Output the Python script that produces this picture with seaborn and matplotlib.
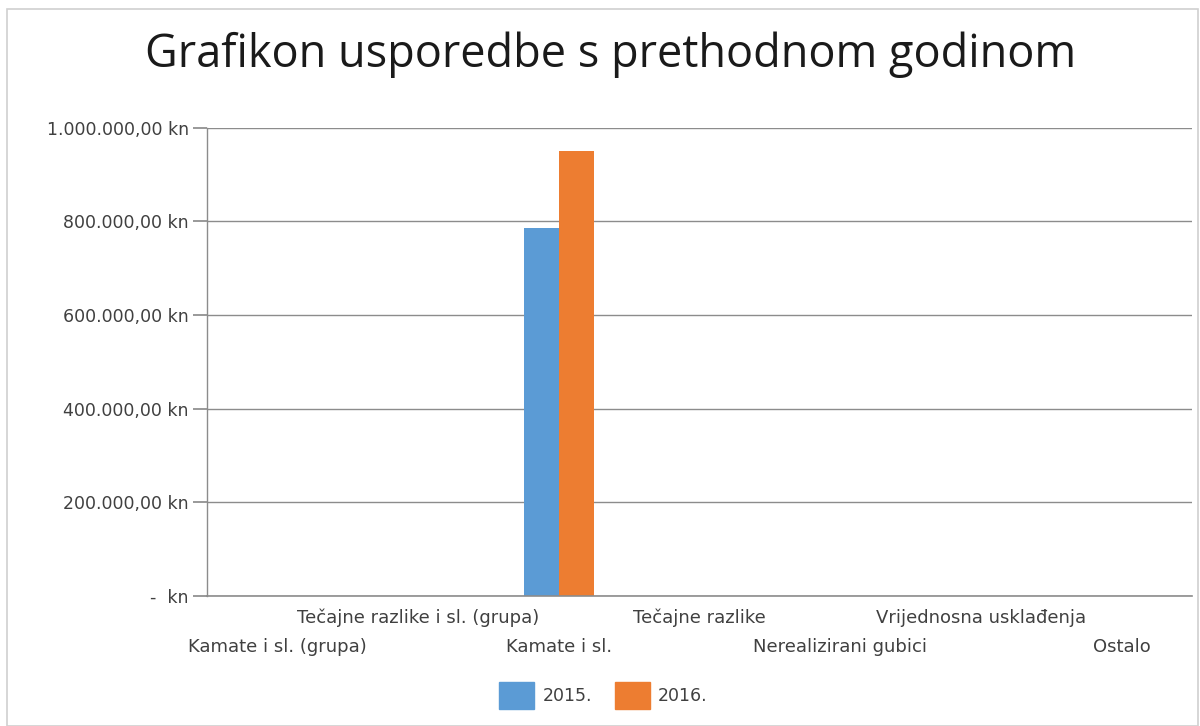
import matplotlib
matplotlib.use("Agg")
import matplotlib.pyplot as plt
import matplotlib.patches as mpatches
import seaborn as sns
import pandas as pd

categories = ["Kamate i sl. (grupa)", "Tečajne razlike i sl. (grupa)", "Kamate i sl.",
              "Tečajne razlike", "Nerealizirani gubici", "Vrijednosna usklađenja", "Ostalo"]
years = ["2015.", "2016."]
values_2015 = [0, 0, 785000, 0, 0, 0, 0]
values_2016 = [0, 0, 950000, 0, 0, 0, 0]
y_ticks = [0, 200000, 400000, 600000, 800000, 1000000]
y_tick_labels = ["-  kn", "200.000,00 kn", "400.000,00 kn", "600.000,00 kn",
                 "800.000,00 kn", "1.000.000,00 kn"]
colors = ["#5B9BD5", "#ED7D31"]

df = pd.DataFrame({
    "kategorija": categories * 2,
    "godina": [years[0]] * len(categories) + [years[1]] * len(categories),
    "iznos": values_2015 + values_2016,
})

sns.set_theme(style="white")
plt.rcParams["font.family"] = ["DejaVu Sans"]
text_color = "#404040"

fig = plt.figure(figsize=(12, 7.26), dpi=100)
ax = fig.add_axes([0.1725, 0.179, 0.821, 0.645])

sns.barplot(data=df, x="kategorija", y="iznos", hue="godina", palette=colors,
            width=0.5, ax=ax, saturation=1, legend=False, linewidth=0)

ax.set_ylim(0, 1000000)
ax.set_xlim(-0.5, len(categories) - 0.5)
ax.set_yticks(y_ticks)
ax.set_yticklabels(y_tick_labels, color=text_color, fontsize=12.5)
ax.yaxis.grid(True, color="#8c8c8c", linewidth=1)
ax.set_axisbelow(True)
ax.set_xlabel("")
ax.set_ylabel("")

# two-row category labels: odd indices on the first row (major), even on the second (minor)
odd_idx = [i for i in range(len(categories)) if i % 2 == 1]
even_idx = [i for i in range(len(categories)) if i % 2 == 0]
ax.set_xticks(odd_idx)
ax.set_xticklabels([categories[i] for i in odd_idx], color=text_color, fontsize=13)
ax.set_xticks(even_idx, minor=True)
ax.set_xticklabels([categories[i] for i in even_idx], minor=True, color=text_color, fontsize=13)
ax.tick_params(axis="x", which="major", length=0, pad=9)
ax.tick_params(axis="x", which="minor", length=0, pad=30, bottom=True)
ax.tick_params(axis="y", length=10, color="#8c8c8c", pad=3, direction="out", left=True)

for s in ["top", "right"]:
    ax.spines[s].set_visible(False)
ax.spines["left"].set_color("#8c8c8c")
ax.spines["bottom"].set_color("#8c8c8c")
ax.spines["left"].set_linewidth(1)
ax.spines["bottom"].set_linewidth(1.2)

fig.text(0.509, 0.924, "Grafikon usporedbe s prethodnom godinom", ha="center", va="center",
         fontsize=32.5, color="#1a1a1a", family="Open Sans")

handles = [mpatches.Patch(color=c, label=y) for c, y in zip(colors, years)]
fig.legend(handles=handles, loc="center", bbox_to_anchor=(0.503, 0.0425), ncol=2,
           frameon=False, fontsize=12.5, handlelength=2.0, handleheight=2.0,
           columnspacing=1.3, handletextpad=0.5, labelcolor=text_color)

border = mpatches.Rectangle((0.006, 0.0), 0.992, 0.988, transform=fig.transFigure,
                            fill=False, edgecolor="#d0d0d0", linewidth=1.2)
fig.patches.append(border)

fig.savefig("out.png", dpi=100, facecolor="white")
